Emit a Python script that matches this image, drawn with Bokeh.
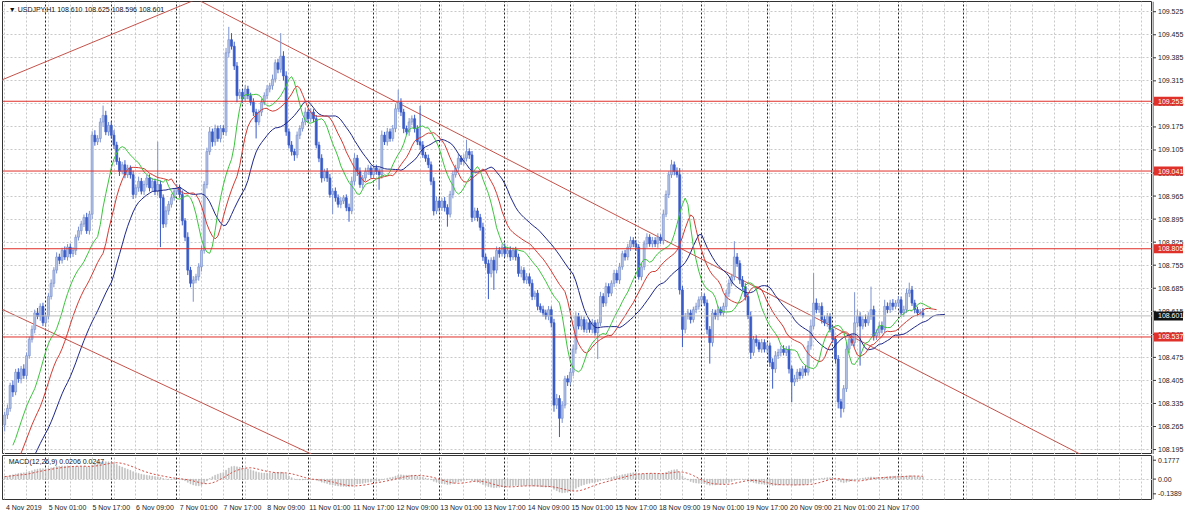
import numpy as np
import pandas as pd
from bokeh.plotting import figure
from bokeh.layouts import column, row
from bokeh.models import (Range1d, FixedTicker, Span, Label, ColumnDataSource, Grid)
from bokeh.core.properties import value
from bokeh.embed import file_html
from bokeh.resources import INLINE

# ---------------- data ----------------
symbol_header = "\u25bc USDJPY,H1  108.610 108.625 108.596 108.601"
macd_header = "MACD(12,26,9) 0.0206 0.0247"

first_open = 108.27
close = [
    108.30, 108.32, 108.39, 108.37, 108.43, 108.41, 108.44, 108.42, 108.48, 108.53,
    108.56, 108.61, 108.60, 108.63, 108.58, 108.60, 108.66, 108.70, 108.74, 108.78,
    108.77, 108.80, 108.78, 108.81, 108.79, 108.80, 108.84, 108.86, 108.88, 108.90,
    108.86, 108.91, 109.15, 109.13, 109.14, 109.19, 109.21, 109.16, 109.18, 109.15,
    109.12, 109.07, 109.04, 109.06, 109.03, 109.05, 109.03, 108.97, 108.99, 109.01,
    108.98, 109.00, 109.02, 108.99, 109.01, 108.98, 109.00, 108.96, 108.88, 108.92,
    108.94, 108.96, 108.98, 108.99, 108.97, 108.89, 108.84, 108.74, 108.70, 108.71,
    108.72, 108.75, 108.80, 109.00, 109.10, 109.16, 109.13, 109.17, 109.14, 109.17,
    109.16, 109.40, 109.44, 109.42, 109.36, 109.27, 109.28, 109.26, 109.29, 109.27,
    109.25, 109.22, 109.19, 109.22, 109.25, 109.27, 109.29, 109.30, 109.32, 109.37,
    109.35, 109.39, 109.33, 109.16, 109.12, 109.10, 109.09, 109.15, 109.17, 109.19,
    109.22, 109.20, 109.22, 109.20, 109.12, 109.08, 109.02, 109.04, 109.02, 108.97,
    108.98, 108.96, 108.94, 108.95, 108.96, 108.93, 108.92, 109.01, 109.08, 109.04,
    109.00, 109.02, 109.04, 109.05, 109.03, 109.05, 109.04, 109.03, 109.15, 109.13,
    109.16, 109.14, 109.17, 109.23, 109.25, 109.22, 109.17, 109.16, 109.19, 109.20,
    109.17, 109.13, 109.12, 109.09, 109.08, 109.06, 109.01, 108.92, 108.95, 108.93,
    108.95, 108.93, 108.91, 108.97, 109.03, 109.05, 109.08, 109.07, 109.08, 109.10,
    109.09, 108.90, 108.92, 108.90, 108.87, 108.78, 108.76, 108.73, 108.77, 108.74,
    108.80, 108.79, 108.81, 108.79, 108.80, 108.78, 108.80, 108.78, 108.73, 108.74,
    108.71, 108.72, 108.70, 108.66, 108.67, 108.63, 108.62, 108.61, 108.60, 108.62,
    108.58, 108.33, 108.35, 108.29, 108.33, 108.41, 108.40, 108.43, 108.50, 108.60,
    108.57, 108.59, 108.56, 108.58, 108.56, 108.58, 108.55, 108.58, 108.66, 108.64,
    108.69, 108.67, 108.70, 108.73, 108.71, 108.75, 108.79, 108.78, 108.81, 108.83,
    108.82, 108.81, 108.72, 108.75, 108.82, 108.84, 108.82, 108.83, 108.82, 108.84,
    108.83, 108.91, 108.97, 109.03, 109.06, 109.04, 109.03, 108.68, 108.56, 108.60,
    108.61, 108.59, 108.62, 108.63, 108.65, 108.66, 108.64, 108.56, 108.52, 108.61,
    108.60, 108.62, 108.61, 108.63, 108.67, 108.70, 108.72, 108.78, 108.76, 108.71,
    108.69, 108.66, 108.60, 108.49, 108.53, 108.52, 108.50, 108.52, 108.50, 108.51,
    108.46, 108.44, 108.48, 108.49, 108.50, 108.49, 108.50, 108.44, 108.40, 108.41,
    108.43, 108.42, 108.44, 108.43, 108.51, 108.57, 108.64, 108.62, 108.63, 108.59,
    108.58, 108.60, 108.56, 108.53, 108.47, 108.34, 108.32, 108.38, 108.50, 108.53,
    108.52, 108.58, 108.60, 108.57, 108.59, 108.58, 108.60, 108.62, 108.54, 108.55,
    108.57, 108.56, 108.63, 108.62, 108.64, 108.63, 108.64, 108.65, 108.61, 108.62,
    108.67, 108.68, 108.64, 108.62, 108.61, 108.610, 108.601,
]
# wick lengths in points (0.001)
wick_up = [
    10, 12, 8, 15, 10, 12, 9, 14, 10, 8,
    12, 10, 15, 9, 11, 8, 10, 12, 9, 14,
    10, 8, 12, 9, 11, 10, 8, 12, 10, 9,
    14, 10, 12, 15, 10, 12, 30, 14, 10, 12,
    15, 10, 12, 9, 14, 10, 8, 12, 10, 14,
    10, 12, 9, 11, 10, 8, 130, 12, 10, 14,
    10, 12, 9, 11, 10, 12, 8, 15, 10, 12,
    9, 11, 14, 10, 12, 15, 10, 12, 9, 11,
    10, 15, 39, 20, 14, 12, 10, 8, 12, 10,
    9, 12, 10, 8, 11, 10, 12, 9, 14, 10,
    12, 70, 15, 14, 10, 12, 9, 11, 10, 12,
    14, 10, 12, 9, 11, 10, 12, 8, 10, 12,
    9, 11, 10, 12, 8, 10, 12, 14, 15, 10,
    12, 9, 11, 10, 8, 12, 10, 9, 14, 10,
    12, 10, 11, 14, 38, 12, 10, 9, 12, 10,
    12, 10, 109, 12, 9, 11, 10, 12, 14, 10,
    9, 12, 10, 11, 12, 10, 14, 9, 12, 36,
    10, 12, 10, 9, 11, 14, 10, 12, 9, 11,
    12, 10, 9, 11, 10, 12, 9, 11, 10, 12,
    9, 11, 10, 12, 8, 10, 9, 12, 10, 11,
    10, 12, 14, 10, 12, 9, 11, 10, 14, 12,
    10, 12, 9, 11, 10, 12, 9, 11, 14, 10,
    12, 10, 9, 11, 10, 12, 9, 11, 10, 12,
    10, 12, 9, 11, 10, 12, 9, 11, 10, 12,
    9, 14, 12, 10, 15, 10, 12, 20, 12, 10,
    12, 10, 9, 11, 10, 12, 9, 11, 10, 12,
    10, 12, 9, 11, 10, 12, 9, 48, 12, 10,
    12, 10, 9, 14, 10, 12, 9, 11, 10, 12,
    10, 12, 14, 11, 10, 12, 9, 11, 10, 12,
    10, 12, 9, 11, 15, 20, 91, 14, 10, 12,
    12, 10, 9, 11, 10, 12, 9, 11, 20, 12,
    14, 93, 20, 12, 10, 15, 12, 70, 12, 10,
    12, 14, 20, 12, 10, 12, 9, 11, 10, 12,
    14, 22, 12, 10, 9, 12, 15,
]
wick_dn = [
    20, 12, 10, 15, 10, 12, 14, 10, 12, 9,
    10, 12, 9, 14, 10, 12, 10, 9, 12, 10,
    12, 10, 9, 11, 12, 10, 14, 10, 12, 9,
    10, 12, 15, 12, 10, 12, 14, 10, 12, 10,
    12, 10, 14, 9, 11, 10, 12, 14, 10, 12,
    10, 12, 9, 11, 10, 12, 14, 150, 12, 10,
    12, 10, 9, 11, 10, 14, 12, 15, 12, 56,
    10, 12, 14, 10, 12, 10, 15, 12, 10, 12,
    10, 12, 14, 10, 12, 20, 10, 12, 9, 11,
    10, 12, 50, 10, 12, 9, 11, 10, 12, 10,
    12, 10, 14, 12, 10, 12, 18, 10, 12, 9,
    10, 12, 9, 11, 10, 12, 14, 10, 12, 10,
    60, 12, 10, 12, 9, 11, 33, 10, 12, 14,
    10, 12, 9, 11, 10, 12, 10, 46, 12, 10,
    12, 10, 9, 11, 10, 12, 14, 10, 12, 10,
    12, 10, 14, 9, 11, 10, 12, 14, 10, 12,
    10, 12, 38, 10, 12, 9, 11, 10, 12, 10,
    12, 14, 10, 12, 10, 12, 14, 78, 12, 60,
    10, 12, 9, 11, 10, 12, 9, 11, 10, 12,
    10, 12, 9, 11, 10, 12, 9, 11, 10, 12,
    14, 20, 12, 57, 14, 10, 12, 10, 12, 14,
    10, 12, 9, 11, 10, 12, 9, 80, 10, 12,
    10, 12, 9, 11, 10, 12, 9, 11, 10, 12,
    10, 12, 9, 11, 10, 12, 9, 11, 10, 12,
    10, 12, 9, 11, 10, 12, 9, 14, 54, 12,
    10, 12, 9, 11, 10, 12, 9, 14, 64, 12,
    10, 12, 9, 11, 10, 12, 9, 11, 10, 12,
    10, 12, 9, 20, 10, 12, 9, 11, 10, 12,
    14, 60, 12, 10, 12, 9, 11, 14, 61, 12,
    10, 12, 9, 11, 10, 12, 9, 11, 10, 12,
    10, 12, 9, 11, 14, 20, 28, 12, 10, 12,
    10, 12, 14, 120, 10, 12, 9, 11, 14, 12,
    10, 12, 9, 11, 10, 12, 9, 11, 10, 12,
    10, 12, 9, 11, 10, 8, 5,
]

x_labels = ["4 Nov 2019", "5 Nov 01:00", "5 Nov 17:00", "6 Nov 09:00", "7 Nov 01:00",
            "7 Nov 17:00", "8 Nov 09:00", "11 Nov 01:00", "11 Nov 17:00", "12 Nov 09:00",
            "13 Nov 01:00", "13 Nov 17:00", "14 Nov 09:00", "15 Nov 01:00", "15 Nov 17:00",
            "18 Nov 09:00", "19 Nov 01:00", "19 Nov 17:00", "20 Nov 09:00", "21 Nov 01:00",
            "21 Nov 17:00"]
label_every = 16          # bars between time labels
first_midnight = 15       # bar index of 5 Nov 00:00
bars_per_day = 24
grid_every = 8

price_ticks = [108.195, 108.265, 108.335, 108.405, 108.475, 108.545, 108.615, 108.685,
               108.755, 108.825, 108.895, 108.965, 109.035, 109.105, 109.175, 109.245,
               109.315, 109.385, 109.455, 109.525]
levels = [109.253, 109.041, 108.805, 108.537]
bid = 108.601
macd_ticks = [-0.1389, 0.0, 0.1777]
macd_tick_text = ["-0.1389", "0.00", "0.1777"]

# trend lines: (bar, price) endpoints
trend_x0 = [-3, 60, -3]
trend_y0 = [109.311, 109.607, 108.629]
trend_x1 = [90, 420, 120]
trend_y1 = [109.631, 108.068, 108.151]

# Alligator (SMMA of median price) and MACD seeds representing earlier history
jaw_seed, teeth_seed, lips_seed = 108.12, 108.15, 108.19
ema_fast_seed, ema_slow_seed = 108.24, 108.22

# ---------------- derived ----------------
n = min(len(close), len(wick_up), len(wick_dn))
c = np.array(close[:n])
o = np.array([first_open] + close[:n - 1])
hi = np.maximum(o, c) + np.array(wick_up[:n]) / 1000.0
lo = np.minimum(o, c) - np.array(wick_dn[:n]) / 1000.0
idx = np.arange(n)
med = (hi + lo) / 2


def smma(vals, period, seed):
    out, s = [], seed
    for v in vals:
        s = (s * (period - 1) + v) / period
        out.append(s)
    return np.array(out)


def ema(vals, period, seed):
    a = 2.0 / (period + 1)
    out, s = [], seed
    for v in vals:
        s = s + a * (v - s)
        out.append(s)
    return np.array(out)


jaw = smma(med, 13, jaw_seed)
teeth = smma(med, 8, teeth_seed)
lips = smma(med, 5, lips_seed)
macd = ema(c, 12, ema_fast_seed) - ema(c, 26, ema_slow_seed)
signal = pd.Series(macd).rolling(9, min_periods=1).mean().values

bull = c >= o
src_bull = ColumnDataSource(dict(x=idx[bull], o=o[bull], c=c[bull], h=hi[bull], l=lo[bull]))
src_bear = ColumnDataSource(dict(x=idx[~bull], o=o[~bull], c=c[~bull], h=hi[~bull], l=lo[~bull]))

FONT = "Liberation Sans"
FW = 1150          # plot frame width
TW = 32            # price-scale strip width
MAIN_H = 453
MACD_H = 44
BOTTOM = 16
XEND = 420.0
xr = Range1d(-0.8, XEND)
yr_main = Range1d(108.180, 109.556)
yr_macd = Range1d(-0.192, 0.222)
GRID_C = "#c9c9c9"
SEP_C = "#222222"
LEVEL_C = "#e0302a"
FRAME_C = "#333333"

grid_x = list(range(0, 424, grid_every))
seps = list(range(first_midnight, 360, bars_per_day))


def add_vgrids(fig):
    fig.xgrid.ticker = FixedTicker(ticks=grid_x)
    fig.xgrid.grid_line_color = GRID_C
    fig.xgrid.grid_line_dash = "2 2"
    fig.add_layout(Grid(dimension=0, ticker=FixedTicker(ticks=seps),
                        grid_line_color=SEP_C, grid_line_dash="2 2"))


def scale_strip(yr, height, ticks, tick_text, bottom):
    s = figure(frame_width=TW, frame_height=height, x_range=Range1d(-0.5, TW - 0.5),
               y_range=yr, x_axis_location=None, y_axis_location=None,
               output_backend="svg", toolbar_location=None, min_border_left=0,
               min_border_right=0, min_border_top=1, min_border_bottom=bottom)
    s.outline_line_color = None
    s.grid.visible = False
    s.add_layout(Span(location=0, dimension="height", line_color=FRAME_C, line_width=1))
    s.segment(x0=[0] * len(ticks), y0=ticks, x1=[3] * len(ticks), y1=ticks,
              line_color=FRAME_C, line_width=1)
    s.text(x=[5] * len(ticks), y=ticks, text=tick_text,
           text_font=value(FONT), text_font_size=value("7px"), text_color="#222222",
           text_baseline="middle", text_align="left")
    return s


# ---------------- main panel ----------------
p = figure(frame_width=FW, frame_height=MAIN_H, x_range=xr, y_range=yr_main,
           y_axis_location=None, x_axis_location=None, output_backend="svg",
           toolbar_location=None, min_border_left=2, min_border_right=0,
           min_border_top=1, min_border_bottom=0)
p.outline_line_color = FRAME_C
add_vgrids(p)
p.ygrid.ticker = FixedTicker(ticks=price_ticks)
p.ygrid.grid_line_color = GRID_C
p.ygrid.grid_line_dash = "2 2"

for lv in levels:
    p.add_layout(Span(location=lv, dimension="width", line_color=LEVEL_C, line_width=1))
p.add_layout(Span(location=bid, dimension="width", line_color="#bcbcbc", line_width=1))

p.segment(x0=trend_x0, y0=trend_y0, x1=trend_x1, y1=trend_y1,
          line_color="#c4524a", line_width=1)

p.segment(x0="x", y0="h", x1="x", y1="l", source=src_bull, line_color="#7d93d0", line_width=1)
p.segment(x0="x", y0="h", x1="x", y1="l", source=src_bear, line_color="#3a5bc8", line_width=1)
p.vbar(x="x", top="c", bottom="o", width=0.72, source=src_bull,
       fill_color="#b4c3e4", line_color="#7d93d0", line_width=0.7)
p.vbar(x="x", top="o", bottom="c", width=0.72, source=src_bear,
       fill_color="#3a5bc8", line_color="#3a5bc8", line_width=0.7)

p.line(idx + 8, jaw, line_color="#1d2688", line_width=1)
p.line(idx + 5, teeth, line_color="#d23a32", line_width=1)
p.line(idx + 3, lips, line_color="#3cc43c", line_width=1)

p.add_layout(Label(x=1.5, y=109.532, text=symbol_header, text_font=FONT,
                   text_font_size="7px", text_color="#111111", text_baseline="middle"))

# ---------------- price scale strip (main) ----------------
t = scale_strip(yr_main, MAIN_H, price_ticks, ["%.3f" % v for v in price_ticks], 0)
tag_prices = levels + [bid]
tag_colors = [LEVEL_C] * len(levels) + ["#111111"]
t.rect(x=[(TW - 3) / 2.0 + 1] * len(tag_prices), y=tag_prices, width=TW - 3, height=9,
       height_units="screen", fill_color=tag_colors, line_color=None)
t.text(x=[5] * len(tag_prices), y=tag_prices, text=["%.3f" % v for v in tag_prices],
       text_font=value(FONT), text_font_size=value("7px"), text_color="white",
       text_baseline="middle", text_align="left")

# ---------------- MACD panel ----------------
m = figure(frame_width=FW, frame_height=MACD_H, x_range=xr, y_range=yr_macd,
           y_axis_location=None, x_axis_location="below", output_backend="svg",
           toolbar_location=None, min_border_left=2, min_border_right=0,
           min_border_top=1, min_border_bottom=BOTTOM)
m.outline_line_color = FRAME_C
add_vgrids(m)
m.ygrid.ticker = FixedTicker(ticks=[0.0])
m.ygrid.grid_line_color = GRID_C
m.ygrid.grid_line_dash = "2 2"

label_pos = [k * label_every + 7 for k in range(len(x_labels))]
mx = m.xaxis[0]
mx.ticker = FixedTicker(ticks=label_pos)
mx.major_label_overrides = {pos: s for pos, s in zip(label_pos, x_labels)}
mx.major_label_text_font = FONT
mx.major_label_text_font_size = "7px"
mx.major_label_text_color = "#222222"
mx.axis_line_color = None
mx.major_tick_line_color = None
mx.minor_tick_line_color = None
mx.major_tick_out = 0
mx.major_tick_in = 0
mx.major_label_standoff = 4

m.vbar(x=idx, top=macd, bottom=0, width=0.35, fill_color="#bdbdbd", line_color="#bdbdbd",
       line_width=0.5)
m.line(idx, signal, line_color="#d24a40", line_width=1, line_dash="2 2")
m.add_layout(Label(x=1.5, y=0.17, text=macd_header, text_font=FONT, text_font_size="7px",
                   text_color="#111111", text_baseline="middle"))

tm = scale_strip(yr_macd, MACD_H, macd_ticks, macd_tick_text, BOTTOM)

layout = column(row(p, t, spacing=0), row(m, tm, spacing=0), spacing=0)
open("out.html", "w").write(file_html(layout, INLINE))
